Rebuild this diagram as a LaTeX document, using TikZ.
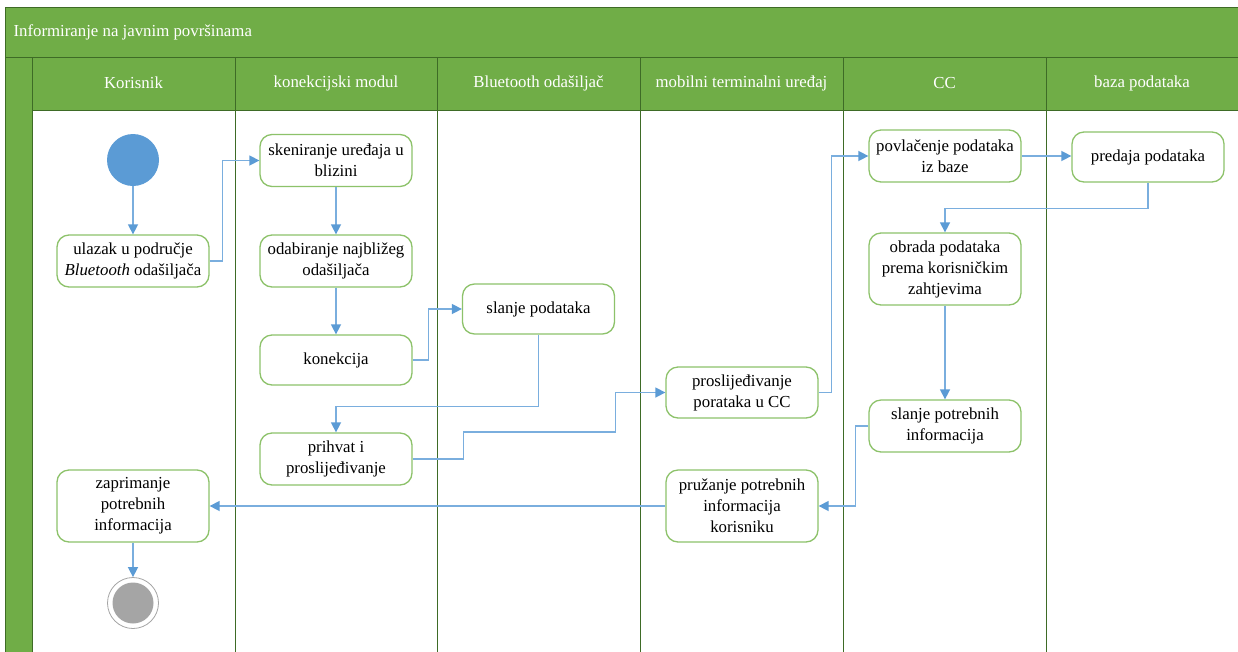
\documentclass[tikz,border=0pt]{standalone}
\usepackage{fontspec}
\setmainfont{Liberation Serif}
\usetikzlibrary{arrows.meta}
\definecolor{lanegreen}{HTML}{70AD47}
\definecolor{darkgreen}{HTML}{3E6B26}
\definecolor{boxgreen}{HTML}{8DC26A}
\definecolor{flowblue}{HTML}{7AAEDE}
\definecolor{tipblue}{HTML}{5B9BD5}
\definecolor{endgray}{HTML}{A5A5A5}
\tikzset{
  x=1pt, y=-1pt,
  act/.style={draw=boxgreen, line width=1.3pt, rounded corners=12pt, fill=white,
    minimum width=152pt, align=center, inner sep=2pt,
    font=\fontsize{16.8}{21}\selectfont},
  flow/.style={draw=flowblue, line width=1.5pt,
    -{Triangle[length=10pt,width=10pt,color=tipblue]}},
  lane/.style={draw=darkgreen, line width=1pt},
  hdr/.style={text=white, font=\fontsize{16.8}{20}\selectfont},
}
\begin{document}
\begin{tikzpicture}
\useasboundingbox (0,0) rectangle (1238,651);
\begin{scope}
\clip (0,0) rectangle (1238,651);
\fill[white] (0,0) rectangle (1238,651);
% title band
\fill[lanegreen] (5,7) rectangle (1245,57);
% left strip
\fill[lanegreen] (5,57) rectangle (32,660);
% lane headers
\fill[lanegreen] (32,57) rectangle (1245,110);
% borders
\draw[lane] (5,660) -- (5,7) -- (1245,7);
\draw[lane] (5,57) -- (1245,57);
\draw[lane] (32,110) -- (1245,110);
\foreach \xx in {32,235,437,640,843,1046} {
  \draw[lane] (\xx,57) -- (\xx,660);
}
\end{scope}
\node[hdr, anchor=west] (title) at (10,32) {Informiranje na javnim površinama};
\node[hdr] (h1) at (133.5,83) {Korisnik};
\node[hdr] (h2) at (336,83) {konekcijski modul};
\node[hdr] (h3) at (538.5,83) {Bluetooth odašiljač};
\node[hdr] (h4) at (741.5,83) {mobilni terminalni uređaj};
\node[hdr] (h5) at (944.5,83) {CC};
\node[hdr] (h6) at (1142,83) {baza podataka};

% activities
\node[circle, fill=tipblue, minimum size=52pt, inner sep=0pt] (start) at (133,160) {};
\node[act, minimum height=52pt] (n1) at (133,261) {ulazak u područje\\\textit{Bluetooth} odašiljača};
\node[act, minimum height=52pt] (n2) at (336,160.5) {skeniranje uređaja u\\blizini};
\node[act, minimum height=52pt] (n3) at (336,261) {odabiranje najbližeg\\odašiljača};
\node[act, minimum height=50pt] (n4) at (336,360) {konekcija};
\node[act, minimum height=50pt] (n5) at (538.5,309) {slanje podataka};
\node[act, minimum height=52pt] (n6) at (336,459) {prihvat i\\proslijeđivanje};
\node[act, minimum height=72pt] (n7) at (133,506) {zaprimanje\\potrebnih\\informacija};
\node[circle, draw=endgray, line width=0.8pt, fill=white, minimum size=51pt, inner sep=0pt] (end) at (133,603) {};
\node[circle, fill=endgray, minimum size=41pt, inner sep=0pt] (endin) at (end.center) {};
\node[act, minimum height=51pt] (n8) at (742,392.5) {proslijeđivanje\\porataka u CC};
\node[act, minimum height=72pt] (n9) at (742,506) {pružanje potrebnih\\informacija\\korisniku};
\node[act, minimum height=52pt] (n10) at (945,156) {povlačenje podataka\\iz baze};
\node[act, minimum height=50pt] (n11) at (1148,157) {predaja podataka};
\node[act, minimum height=72pt] (n12) at (945,269) {obrada podataka\\prema korisničkim\\zahtjevima};
\node[act, minimum height=52pt] (n13) at (945,426) {slanje potrebnih\\informacija};

% connectors
\draw[flow] (start) -- (n1);
\draw[flow] (n1.east) -- ++(13,0) |- (n2.west);
\draw[flow] (n2) -- (n3);
\draw[flow] (n3) -- (n4);
\draw[flow] (n4.east) -- ++(16,0) |- (n5.west);
\draw[flow] (n5.south) -- ++(0,72) -| (n6.north);
\draw[flow] (n6.east) -- ++(51,0) -- ++(0,-27) -- ++(152,0) |- (n8.west);
\draw[flow] (n8.east) -- ++(13,0) |- (n10.west);
\draw[flow] (n10.east) -- (n10.east -| n11.west);
\draw[flow] (n11.south) -- ++(0,26) -| (n12.north);
\draw[flow] (n12) -- (n13);
\draw[flow] (n13.west) -- ++(-13,0) |- (n9.east);
\draw[flow] (n9.west) -- (n7.east);
\draw[flow] (n7) -- (end);
\end{tikzpicture}
\end{document}
